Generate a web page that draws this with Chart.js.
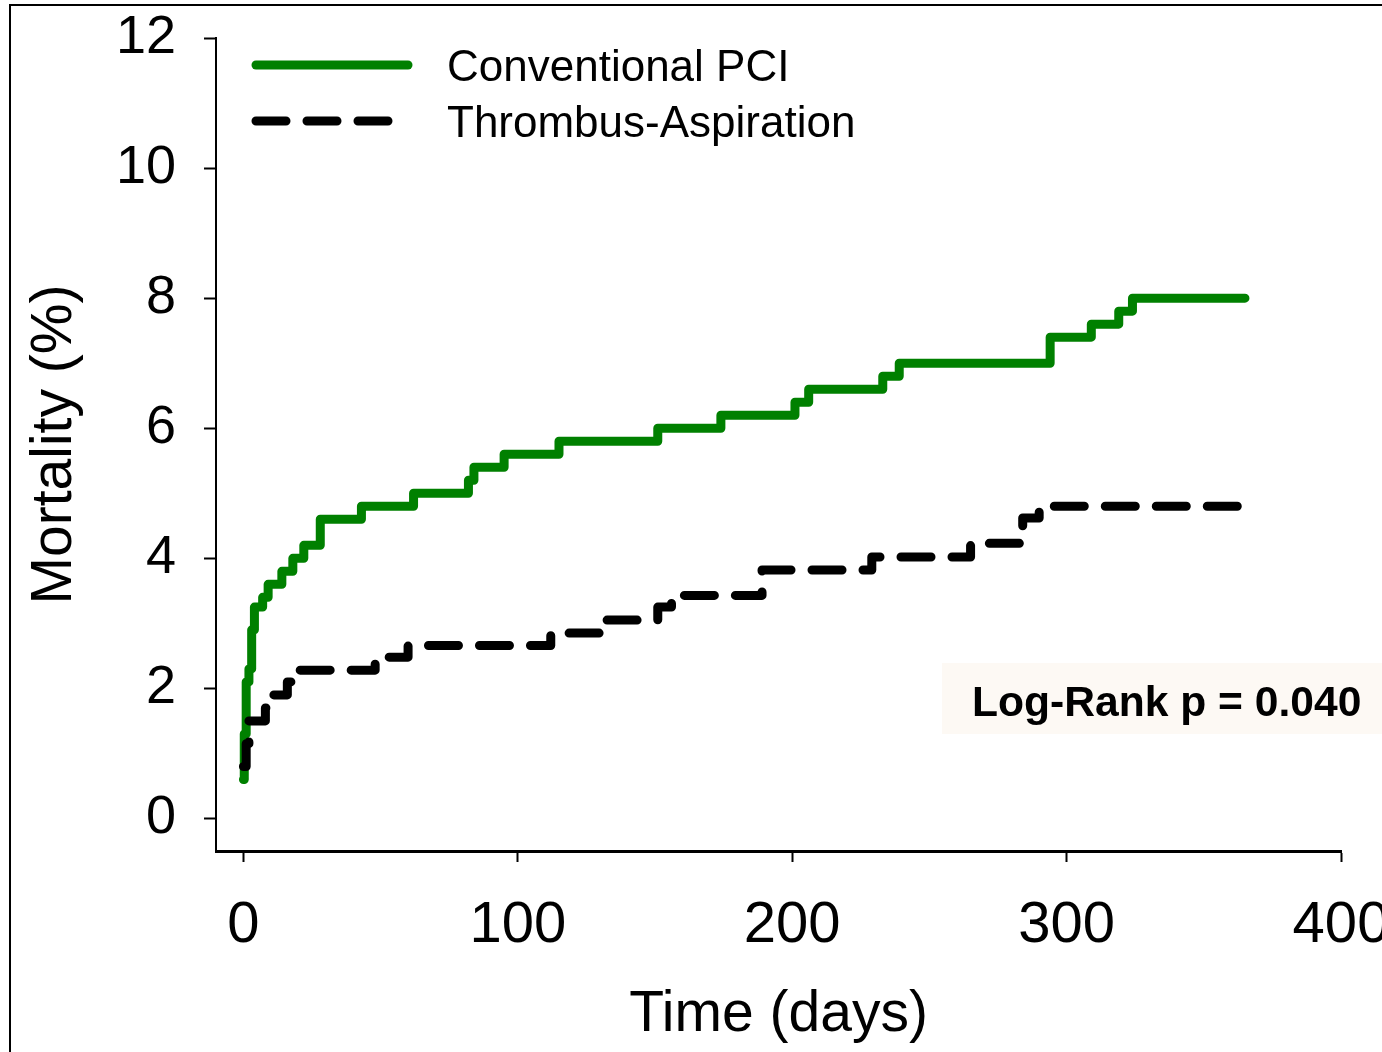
<!DOCTYPE html>
<html>
<head>
<meta charset="utf-8">
<title>Mortality</title>
<script src="https://cdn.jsdelivr.net/npm/chart.js"></script>
<style>
  html, body { margin: 0; padding: 0; background: #fff; overflow: hidden; }
  #wrap { position: relative; width: 1382px; height: 1052px; overflow: hidden; background: #fff; }
  #frame { position: absolute; left: 9px; top: 4px; width: 2000px; height: 2000px; border-left: 2px solid #000; border-top: 2px solid #000; }
  canvas { position: absolute; left: 0; top: 0; }
</style>
</head>
<body>
<div id="wrap">
  <div id="frame"></div>
  <canvas id="chart-mortality" width="1440" height="1052"></canvas>
</div>
<script>
// step points (day, cumulative mortality %)
const seriesNames = ["Conventional PCI", "Thrombus-Aspiration"];

const convDays = [0, 0.3, 1, 2, 3, 4, 7, 9, 14, 18, 22, 28, 43, 62, 82, 84, 95, 115, 151, 174, 201, 206, 233, 239, 294, 309, 319, 324, 365];
const convMort = [0.6, 1.3, 2.1, 2.3, 2.9, 3.25, 3.4, 3.6, 3.8, 4.0, 4.2, 4.6, 4.8, 5.0, 5.2, 5.4, 5.6, 5.8, 6.0, 6.2, 6.4, 6.6, 6.8, 7.0, 7.4, 7.6, 7.8, 8.0, 8.0];

const taDays = [0, 1, 2, 8, 10, 16, 20, 48, 60, 112, 131, 151, 156, 189, 229, 265, 284, 290, 365];
const taMort = [0.8, 1.15, 1.5, 1.7, 1.9, 2.1, 2.28, 2.48, 2.66, 2.85, 3.05, 3.25, 3.43, 3.82, 4.02, 4.23, 4.62, 4.8, 4.8];

const xTicks = [0, 100, 200, 300, 400];
const yTicks = [0, 2, 4, 6, 8, 10, 12];

const noteText = "Log-Rank p = 0.040";

Chart.defaults.font.family = '"Liberation Sans", Arial, sans-serif';
Chart.defaults.color = '#000';

function toPoints(days, values) {
    return days.map((d, i) => ({ x: d, y: values[i] }));
}

// legend in the upper left + log-rank box, drawn over the plot
const legendAndNote = {
    id: 'legendAndNote',
    afterDraw(chart) {
        let ctx = chart.ctx;
        let rows = [65, 121];
        let ends = [408, 388];
        ctx.save();
        chart.data.datasets.forEach(function (ds, i) {
            ctx.beginPath();
            ctx.strokeStyle = ds.borderColor;
            ctx.lineWidth = ds.borderWidth;
            ctx.lineCap = 'round';
            ctx.setLineDash(ds.borderDash || []);
            ctx.moveTo(256, rows[i]);
            ctx.lineTo(ends[i], rows[i]);
            ctx.stroke();
            ctx.setLineDash([]);
            ctx.fillStyle = '#000';
            ctx.font = '44px "Liberation Sans", Arial, sans-serif';
            ctx.textBaseline = 'alphabetic';
            ctx.fillText(ds.label, 447, rows[i] + 16);
        });

        ctx.fillStyle = '#fdf9f4';
        ctx.fillRect(942, 663, 500, 71);
        ctx.fillStyle = '#000';
        ctx.font = 'bold 42.6px "Liberation Sans", Arial, sans-serif';
        ctx.fillText(noteText, 972, 716);
        ctx.restore();
    }
};

new Chart(document.getElementById('chart-mortality'), {
    type: 'line',
    data: {
        datasets: [
            {
                label: seriesNames[0],
                data: toPoints(convDays, convMort),
                borderColor: '#008000',
                borderWidth: 9,
                stepped: 'before',
                pointRadius: 0,
                fill: false,
                borderCapStyle: 'round',
                borderJoinStyle: 'round',
                order: 1
            },
            {
                label: seriesNames[1],
                data: toPoints(taDays, taMort),
                borderColor: '#000000',
                borderWidth: 9,
                borderDash: [30, 21],
                stepped: 'before',
                pointRadius: 0,
                fill: false,
                borderCapStyle: 'round',
                borderJoinStyle: 'round',
                order: 0
            }
        ]
    },
    options: {
        responsive: false,
        animation: false,
        devicePixelRatio: 1,
        layout: {
            padding: { top: 38, right: 99, bottom: 0, left: 0 }
        },
        plugins: {
            legend: { display: false },
            tooltip: { enabled: false }
        },
        scales: {
            x: {
                type: 'linear',
                min: -10,
                max: 400,
                afterBuildTicks: function (axis) {
                    axis.ticks = xTicks.map(v => ({ value: v }));
                },
                afterFit: function (axis) {
                    axis.height = 201;
                },
                ticks: {
                    autoSkip: false,
                    maxRotation: 0,
                    padding: 29,
                    font: { size: 58 }
                },
                grid: {
                    drawOnChartArea: false,
                    drawTicks: true,
                    tickLength: 11,
                    tickWidth: 2,
                    tickColor: '#000'
                },
                border: { display: true, color: '#000', width: 3 },
                title: {
                    display: true,
                    text: 'Time (days)',
                    font: { size: 57 },
                    padding: { top: 0, bottom: 3 }
                }
            },
            y: {
                type: 'linear',
                min: -0.5,
                max: 12,
                afterBuildTicks: function (axis) {
                    axis.ticks = yTicks.map(v => ({ value: v }));
                },
                afterFit: function (axis) {
                    // fixed axis width; labels may overhang the top edge
                    axis.width = 216;
                    axis.paddingTop = 0;
                    axis.paddingBottom = 0;
                },
                ticks: {
                    padding: 28,
                    font: { size: 54 }
                },
                grid: {
                    drawOnChartArea: false,
                    drawTicks: true,
                    tickLength: 12,
                    tickWidth: 2,
                    tickColor: '#000'
                },
                border: { display: true, color: '#000', width: 2 },
                title: {
                    display: true,
                    text: 'Mortality (%)',
                    font: { size: 57 },
                    padding: { top: 21, bottom: 0 }
                }
            }
        }
    },
    plugins: [legendAndNote]
});
</script>
</body>
</html>
